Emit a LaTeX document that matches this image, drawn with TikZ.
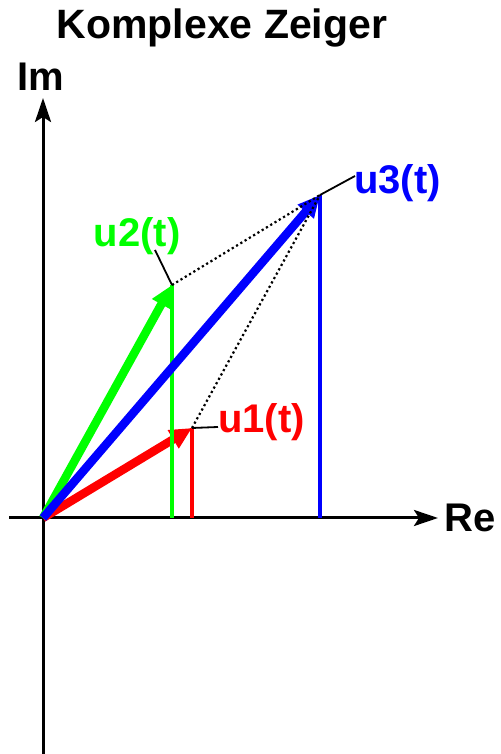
\documentclass[tikz,border=0pt]{standalone}
\usepackage{fontspec}
\setmainfont{Liberation Sans}
\usetikzlibrary{arrows.meta}
\definecolor{pgreen}{RGB}{0,255,0}
\definecolor{pred}{RGB}{255,0,0}
\definecolor{pblue}{RGB}{0,0,255}
\begin{document}
\begin{tikzpicture}[x=1pt,y=1pt,
  axis/.style={line width=3pt,-{Stealth[length=24pt,width=16pt,inset=5pt]}},
  vec/.style={line width=8.5pt,-{Triangle[length=22pt,width=20pt]}},
  proj/.style={line width=3.4pt},
  lbl/.style={font=\fontsize{40}{40}\selectfont\bfseries,inner sep=0pt},
  ttl/.style={font=\fontsize{40}{40}\selectfont\bfseries,inner sep=0pt},
  ttlb/.style={font=\fontsize{41}{41}\selectfont\bfseries,inner sep=0pt},
  lead/.style={line width=1.8pt,black},
  dot/.style={line width=2.2pt,dash pattern=on 2.2pt off 2.8pt,black}]
\useasboundingbox (0,0) rectangle (500,754);
\coordinate (O) at (43,236);
\coordinate (A) at (192,326);
\coordinate (B) at (172,469);
\coordinate (C) at (320,559);
\coordinate (Ax) at (192,236);
\coordinate (Bx) at (172,236);
\coordinate (Cx) at (320,236);
\coordinate (xl) at (9,236);
\coordinate (xr) at (438,236);
\coordinate (yb) at (43,0);
\coordinate (yt) at (43,656);
% axes
\draw[axis] (xl) -- (xr);
\draw[axis] (yb) -- (yt);
\node[ttlb] (title) at (222,726) {Komplexe Zeiger};
\node[ttl] (im) at (41,677) {Im};
\node[ttl,anchor=west] (re) at (444,236) {Re};
% vectors and projections
\draw[pred,vec] (O) -- (A);
\draw[pred,proj] (A) -- (Ax);
\draw[pgreen,proj] (B) -- (Bx);
\draw[pgreen,vec] (O) -- (B);
\draw[pblue,vec] (O) -- (C);
\draw[pblue,proj] (C) -- (Cx);
% dotted
\draw[dot] (B) -- (C);
\draw[dot] (A) -- (C);
% labels
\node[lbl,text=pred,anchor=west] (l1) at (218,332) {u1(t)};
\node[lbl,text=pgreen] (l2) at (137,518) {u2(t)};
\node[lbl,text=pblue,anchor=west] (l3) at (354,571) {u3(t)};
\coordinate (e1) at (218,327);
\coordinate (e2) at (155,504);
\coordinate (e3) at (355,578);
\draw[lead] (A) -- (e1);
\draw[lead] (B) -- (e2);
\draw[lead] (C) -- (e3);
\end{tikzpicture}
\end{document}
